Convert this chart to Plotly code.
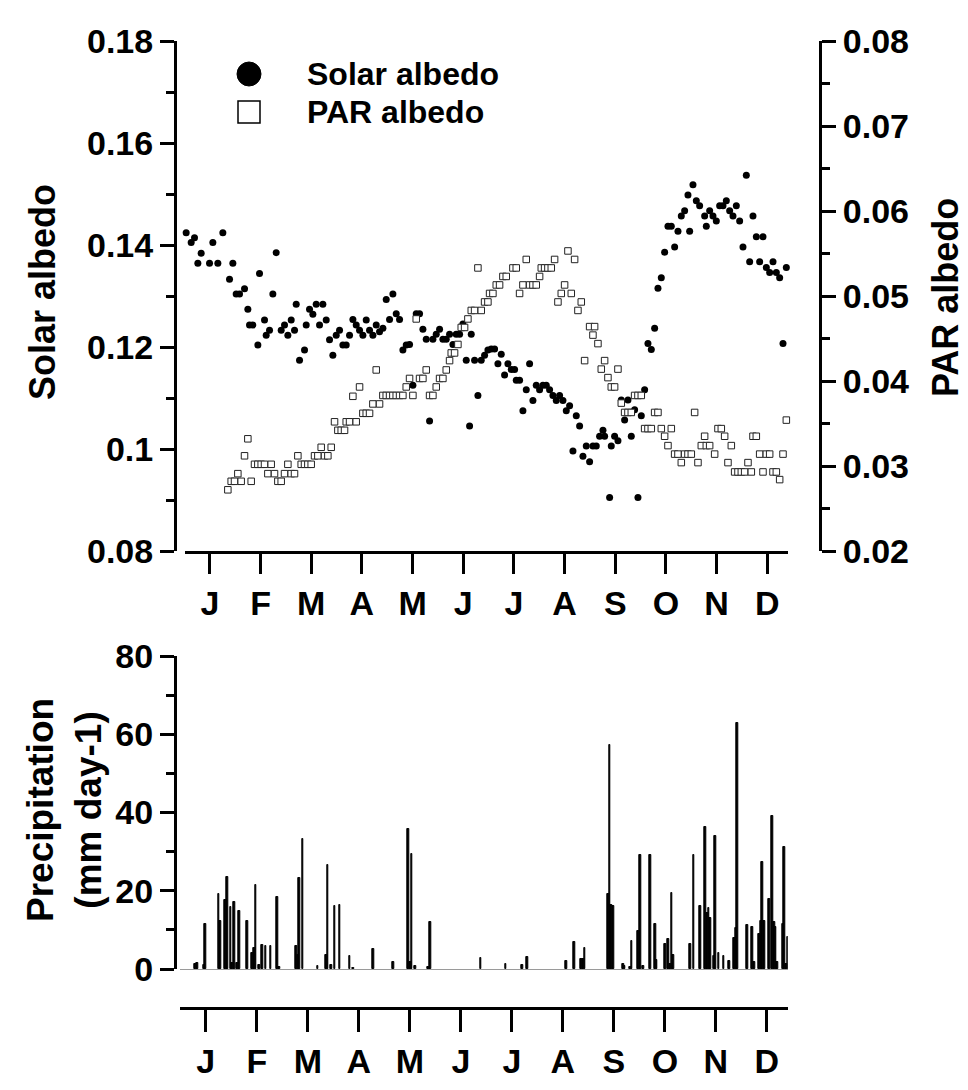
import plotly.graph_objects as go

W, H = 968, 1090

# ---------------- data ----------------
month_labels = ["J", "F", "M", "A", "M", "J", "J", "A", "S", "O", "N", "D"]
month_tick_days = [15.2, 45.6, 76.0, 106.4, 136.8, 167.2, 197.6, 228.0, 258.4, 288.8, 319.2, 349.6]

solar_day = [1, 4, 6, 8, 10, 15, 17, 20, 23, 27, 29, 31, 33, 36, 38, 39, 41, 44, 45, 48,
             49, 51, 53, 55, 58, 60, 62, 64, 66, 67, 69, 72, 73, 75, 77, 79, 81, 83, 85, 87,
             89, 91, 93, 95, 97, 99, 101, 103, 105, 107, 109, 111, 113, 115,
             117, 119, 121, 123, 125, 127, 129, 131, 133, 135, 137, 139, 141, 143, 145, 147,
             149, 151, 153, 155, 157, 159, 161, 163, 165, 167, 169, 171, 172, 174, 176, 178,
             180, 182, 184, 186, 188, 190, 192, 194, 196, 198, 199, 201, 203, 205, 207, 209,
             211, 213, 215, 217, 219, 221, 223, 225, 227, 229, 231, 233, 235, 237, 239, 241,
             243, 245, 247, 249, 251, 252, 255, 256, 258, 260, 262, 264, 266, 268, 270, 272,
             274, 276, 278, 280, 282, 284, 286, 288, 290, 292, 294, 296, 298, 300, 302, 303,
             305, 307, 309, 312, 313, 315, 317, 319, 321, 323, 325, 327, 329, 331, 333, 335,
             337, 339, 341, 343, 345, 347, 349, 351, 353, 355, 357, 359, 361]
solar_albedo = [0.1424, 0.1405, 0.1414, 0.1364, 0.1384, 0.1364, 0.1405, 0.1364, 0.1424, 0.1333,
                0.1364, 0.1304, 0.1304, 0.1314, 0.1274, 0.1243, 0.1243, 0.1204, 0.1344, 0.1253,
                0.1223, 0.1233, 0.1304, 0.1385, 0.1233, 0.1243, 0.1223, 0.1253, 0.1233, 0.1284,
                0.1174, 0.1194, 0.1243, 0.1274, 0.1264, 0.1284, 0.1243, 0.1284, 0.1253, 0.1214,
                0.1184, 0.1223, 0.1233, 0.1204, 0.1204, 0.1223, 0.1254, 0.1243, 0.1233, 0.1223,
                0.1253, 0.1233, 0.1223, 0.1243,
                0.1230, 0.1237, 0.1293, 0.1254, 0.1304, 0.1265, 0.1254, 0.1194, 0.1204, 0.1205,
                0.1125, 0.1265, 0.1265, 0.1235, 0.1215, 0.1055, 0.1215, 0.1225, 0.1235, 0.1215,
                0.1215, 0.1225, 0.1205, 0.1225, 0.1225, 0.1245, 0.1174, 0.1045, 0.1225, 0.1174,
                0.1105, 0.1174, 0.1184, 0.1194, 0.1196, 0.1196, 0.1167, 0.1186, 0.1145, 0.1167,
                0.1156, 0.1156, 0.1135, 0.1135, 0.1075, 0.1116, 0.1167, 0.1095, 0.1125, 0.1116,
                0.1125, 0.1125, 0.1116, 0.1105, 0.1095, 0.1105, 0.1095, 0.1075, 0.1085, 0.0996,
                0.1065, 0.1045, 0.0986, 0.1006,
                0.0975, 0.1006, 0.1006, 0.1025, 0.1037, 0.1025, 0.0905, 0.1006, 0.1025, 0.1016,
                0.1096, 0.1057, 0.1096, 0.1025, 0.1077, 0.0905, 0.1065, 0.1116, 0.1207, 0.1195,
                0.1237, 0.1315, 0.1336, 0.1386, 0.1437, 0.1437, 0.1396, 0.1427, 0.1457, 0.1467,
                0.1498, 0.1427, 0.1518, 0.1487, 0.1477, 0.1457, 0.1437, 0.1467, 0.1457, 0.1447,
                0.1477, 0.1477, 0.1487, 0.1467, 0.1457, 0.1477, 0.1447, 0.1396, 0.1537, 0.1367,
                0.1457, 0.1416, 0.1367, 0.1416, 0.1356, 0.1346, 0.1367, 0.1346, 0.1336, 0.1207,
                0.1356]

par_day = [26, 28, 30, 32, 34, 36, 38, 40, 42, 44, 46, 48, 50, 52, 54, 56, 58, 60, 62, 64,
           66, 68, 70, 72, 74, 76, 78, 80, 82, 84, 86, 88, 90, 92, 94, 96, 97, 99, 101, 103,
           105, 107, 109, 111, 113, 115,
           117, 119, 121, 123, 125, 127, 129, 131, 133, 135, 137, 139, 141, 143, 145, 147,
           149, 151, 153, 155, 157, 159, 160, 162, 164, 166, 168, 170, 172, 174, 176, 178,
           180, 182, 183, 185, 187, 189, 191, 193, 197, 199, 201, 203, 205, 207, 209, 211,
           213, 214, 216, 218, 220, 222, 224, 226, 228, 230, 232, 234, 236, 238, 240,
           243, 245, 246, 248, 250, 252, 254, 256, 258, 260, 262, 264, 266, 268, 270, 272,
           274, 276, 278, 280, 282, 284, 286, 288, 290, 292, 294, 296, 298, 300, 302, 304,
           306, 308, 310, 312, 313, 315, 318, 320, 322, 324, 326, 328, 330, 332, 334, 336,
           338, 340, 341, 343, 345, 347, 349, 351, 353, 355, 357, 359, 361]
par_albedo = [0.0272, 0.0282, 0.0282, 0.0291, 0.0282, 0.0312, 0.0332, 0.0282, 0.0302, 0.0302,
              0.0302, 0.0302, 0.0291, 0.0302, 0.0291, 0.0282, 0.0282, 0.0291, 0.0302, 0.0291,
              0.0291, 0.0312, 0.0302, 0.0302, 0.0302, 0.0302, 0.0312, 0.0312, 0.0322, 0.0312,
              0.0312, 0.0322, 0.0352, 0.0342, 0.0342, 0.0342, 0.0352, 0.0352, 0.0382, 0.0352,
              0.0393, 0.0362, 0.0362, 0.0362, 0.0373, 0.0413,
              0.0373, 0.0383, 0.0383, 0.0383, 0.0383, 0.0383, 0.0383, 0.0383, 0.0393, 0.0403,
              0.0383, 0.0473, 0.0403, 0.0403, 0.0413, 0.0383, 0.0383, 0.0393, 0.0403, 0.0403,
              0.0413, 0.0424, 0.0433, 0.0433, 0.0443, 0.0463, 0.0463, 0.0473, 0.0483, 0.0483,
              0.0533, 0.0483, 0.0493, 0.0493, 0.0503, 0.0503, 0.0513, 0.0513, 0.0523, 0.0523,
              0.0533, 0.0533, 0.0503, 0.0513, 0.0543, 0.0513, 0.0513, 0.0513, 0.0523, 0.0533,
              0.0533, 0.0533, 0.0533, 0.0543, 0.0493, 0.0503, 0.0513, 0.0553, 0.0503, 0.0543,
              0.0483, 0.0493, 0.0424,
              0.0464, 0.0454, 0.0464, 0.0444, 0.0414, 0.0424, 0.0404, 0.0393, 0.0393, 0.0414,
              0.0374, 0.0363, 0.0363, 0.0363, 0.0383, 0.0383, 0.0383, 0.0344, 0.0344, 0.0344,
              0.0363, 0.0363, 0.0344, 0.0335, 0.0324, 0.0344, 0.0314, 0.0314, 0.0304, 0.0314,
              0.0314, 0.0314, 0.0363, 0.0304, 0.0324, 0.0335, 0.0324, 0.0324, 0.0314, 0.0344,
              0.0344, 0.0335, 0.0304, 0.0324, 0.0293, 0.0293, 0.0293, 0.0293, 0.0304, 0.0293,
              0.0335, 0.0335, 0.0314, 0.0293, 0.0314, 0.0314, 0.0293, 0.0293, 0.0284, 0.0314,
              0.0354]

precip_day = [9, 10, 14, 15, 23, 24, 27, 28, 30, 31, 32, 34, 35, 40, 43, 44, 45, 47, 49, 51,
              54, 58, 59, 69, 70, 71, 73, 82, 87, 88, 90, 92, 95, 101, 103, 115,
              127, 136, 137, 138, 140, 148, 149, 179, 194, 204, 207, 230, 235, 239, 240, 241,
              255, 256, 257, 258, 264, 265, 268, 269, 273, 274, 276, 280, 283, 284, 289, 291,
              292, 293, 294, 304, 306, 310, 313, 314, 315, 316, 318, 319, 321, 324, 327, 330,
              331, 332, 338, 341, 342, 345, 346, 347, 348, 351, 353, 354, 355, 356, 359, 360,
              361, 362]
precip_mm = [1.3, 1.5, 1.1, 11.5, 19.1, 12.3, 17.6, 23.5, 15.8, 1.5, 17.0, 1.5, 14.8, 12.3,
             4.1, 5.3, 21.4, 1.1, 6.2, 5.8, 6.0, 18.5, 0.5, 6.0, 3.6, 23.3, 33.3, 0.7, 3.5,
             26.5, 1.1, 16.2, 16.3, 3.2, 0.3, 5.1,
             1.9, 35.7, 1.9, 29.5, 0.8, 0.4, 12.0, 2.7, 1.4, 1.0, 3.1, 2.1, 6.9, 2.5, 2.5, 5.3,
             19.1, 57.3, 16.3, 16.1, 1.3, 0.7, 0.4, 7.2, 9.7, 29.1, 0.7, 29.1, 11.6, 2.3, 6.3,
             7.6, 1.3, 19.5, 3.7, 6.5, 29.1, 16.1, 36.2, 14.4, 15.7, 13.1, 3.4, 33.9, 4.2, 3.4,
             2.0, 8.0, 10.6, 62.8, 11.2, 10.8, 1.7, 8.9, 12.3, 27.4, 12.3, 17.8, 39.1, 11.9,
             10.8, 1.9, 11.4, 31.2, 1.3, 8.2]

solar_ticks = [0.08, 0.10, 0.12, 0.14, 0.16, 0.18]
solar_ticktext = ["0.08", "0.1", "0.12", "0.14", "0.16", "0.18"]
solar_minor = [0.09, 0.11, 0.13, 0.15, 0.17]
par_ticks = [0.02, 0.03, 0.04, 0.05, 0.06, 0.07, 0.08]
par_ticktext = ["0.02", "0.03", "0.04", "0.05", "0.06", "0.07", "0.08"]
par_minor = [0.025, 0.035, 0.045, 0.055, 0.065, 0.075]
precip_ticks = [0, 20, 40, 60, 80]
precip_minor = [10, 30, 50, 70]


# ---------------- layout helpers ----------------
def fx(px):
    return px / W


def fy(py):
    return 1 - py / H


FAM = "Liberation Sans, Arial, Helvetica, sans-serif"


def font(size):
    return dict(family=FAM, size=size, color="black", weight="bold")


axis_common = dict(showline=True, linecolor="black", linewidth=3, ticks="outside",
                   tickcolor="black", tickwidth=3, showgrid=False, zeroline=False,
                   fixedrange=True, automargin=False)

fig = go.Figure()

fig.add_trace(go.Scatter(
    x=solar_day, y=solar_albedo, mode="markers", name="Solar albedo",
    marker=dict(symbol="circle", size=7, color="black", line=dict(width=0)),
    xaxis="x", yaxis="y", showlegend=False, cliponaxis=False))

fig.add_trace(go.Scatter(
    x=par_day, y=par_albedo, mode="markers", name="PAR albedo",
    marker=dict(symbol="square", size=6.5, color="white", line=dict(color="#222", width=1)),
    xaxis="x", yaxis="y2", showlegend=False, cliponaxis=False))

fig.add_trace(go.Bar(
    x=precip_day, y=precip_mm, width=1.0, name="Precipitation",
    marker=dict(color="black", line=dict(color="black", width=1)),
    xaxis="x2", yaxis="y3", showlegend=False))

fig.update_layout(
    template="none",
    width=W, height=H,
    margin=dict(l=0, r=0, t=0, b=0, pad=0, autoexpand=False),
    paper_bgcolor="white", plot_bgcolor="white",
    showlegend=False,
    xaxis=dict(**axis_common, domain=[fx(184.5), fx(788)], range=[0, 362], anchor="y",
               tickmode="array", tickvals=month_tick_days, ticktext=month_labels,
               ticklen=20, tickfont=font(34)),
    yaxis=dict(**axis_common, domain=[fy(551), fy(41)], range=[0.08, 0.18],
               anchor="free", position=fx(175), tickmode="array",
               tickvals=solar_ticks, ticktext=solar_ticktext, ticklen=14,
               tickfont=font(34),
               minor=dict(tickvals=solar_minor, ticklen=8, tickwidth=3,
                          tickcolor="black", ticks="outside")),
    yaxis2=dict(**axis_common, overlaying="y", side="right", range=[0.02, 0.08],
                anchor="free", position=fx(820), tickmode="array",
                tickvals=par_ticks, ticktext=par_ticktext, ticklen=14,
                tickfont=font(34),
                minor=dict(tickvals=par_minor, ticklen=8, tickwidth=3,
                           tickcolor="black", ticks="outside")),
    xaxis2=dict(**axis_common, domain=[fx(180.3), fx(787.7)], range=[0, 362],
                anchor="free", position=fy(1008), tickmode="array",
                tickvals=month_tick_days, ticktext=month_labels, ticklen=22,
                tickfont=font(34)),
    yaxis3=dict(showline=True, linecolor="black", linewidth=3, ticks="outside",
                tickcolor="black", tickwidth=3, showgrid=False, fixedrange=True,
                automargin=False,
                zeroline=True, zerolinecolor="#9a9a9a", zerolinewidth=1,
                domain=[fy(969), fy(656)], range=[0, 80], anchor="free",
                position=fx(175), tickmode="array", tickvals=precip_ticks,
                ticklen=14, tickfont=font(34),
                minor=dict(tickvals=precip_minor, ticklen=8, tickwidth=3,
                           tickcolor="black", ticks="outside")),
    bargap=0,
)

# axis titles
fig.add_annotation(text="Solar albedo", x=fx(42), y=fy(292), xref="paper", yref="paper",
                   xanchor="center", yanchor="middle",
                   textangle=-90, showarrow=False, font=font(36))
fig.add_annotation(text="PAR albedo", x=fx(946), y=fy(298), xref="paper", yref="paper",
                   xanchor="center", yanchor="middle",
                   textangle=-90, showarrow=False, font=font(36))
fig.add_annotation(text="Precipitation<br>(mm day-1)", x=fx(64), y=fy(810), xref="paper",
                   yref="paper", xanchor="center", yanchor="middle",
                   textangle=-90, showarrow=False, font=font(37))

# legend (symbols + labels)
fig.add_shape(type="circle", xref="paper", yref="paper",
              x0=fx(237), x1=fx(261), y0=fy(86), y1=fy(62),
              fillcolor="black", line=dict(color="black", width=1))
fig.add_shape(type="rect", xref="paper", yref="paper",
              x0=fx(238), x1=fx(260), y0=fy(123), y1=fy(101),
              fillcolor="white", line=dict(color="black", width=1.5))
fig.add_annotation(text="Solar albedo", x=fx(305), y=fy(74), xref="paper", yref="paper",
                   xanchor="left", yanchor="middle", showarrow=False, font=font(32))
fig.add_annotation(text="PAR albedo", x=fx(305), y=fy(112), xref="paper", yref="paper",
                   xanchor="left", yanchor="middle", showarrow=False, font=font(32))

fig.write_html("out.html", config={"displayModeBar": False},
               post_script="document.body.style.margin='0';")
